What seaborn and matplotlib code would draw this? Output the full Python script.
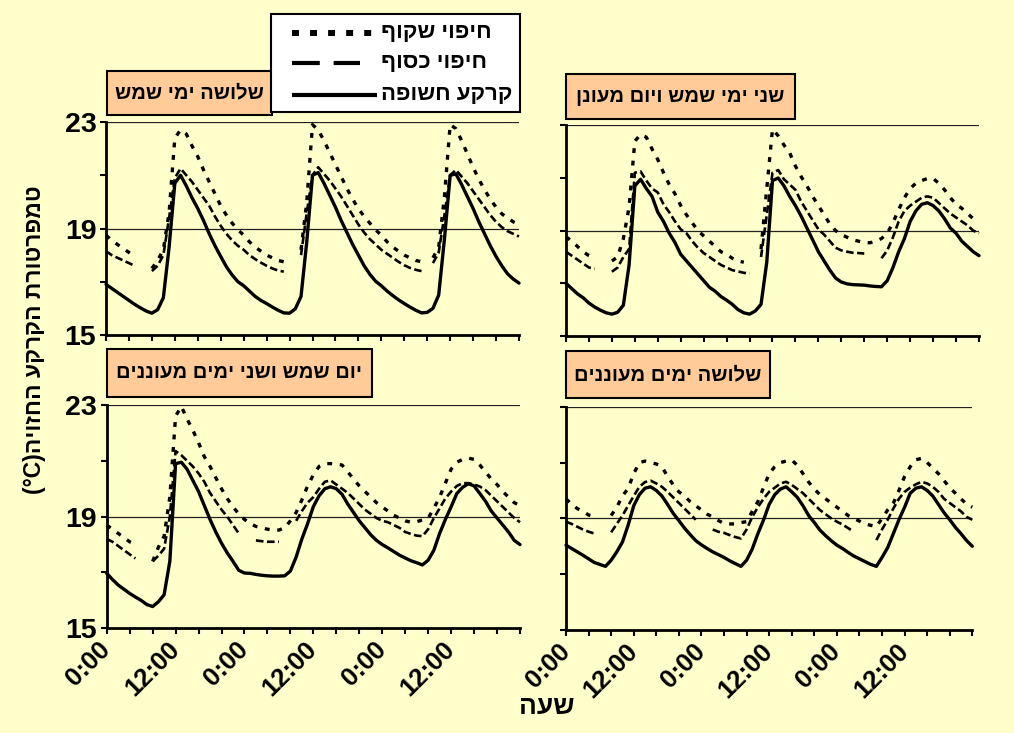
import numpy as np
import pandas as pd
import matplotlib
matplotlib.use("Agg")
import matplotlib.pyplot as plt
from matplotlib.patches import Rectangle
from matplotlib.lines import Line2D
import seaborn as sns

nan = np.nan

# ---- axis data -------------------------------------------------------------
hours = list(range(73))
tick_hours = list(range(0, 73, 4))
tick_labels = ["0:00", "", "", "12:00", "", ""] * 3 + [""]
y_ticks = [15, 17, 19, 21, 23]
y_tick_labels = ["15", "", "19", "", "23"]
grid_levels = [19, 23]

series_names = ["חיפוי שקוף", "חיפוי כסוף", "קרקע חשופה"]
panel_titles = ["שלושה ימי שמש", "שני ימי שמש ויום מעונן",
                "יום שמש ושני ימים מעוננים", "שלושה ימים מעוננים"]
y_title = "טמפרטורת הקרקע החזויה"
y_unit = "(°C)"
x_title = "שעה"

# ---- hourly soil temperature (°C), hours 0..72 ----------------------------
# three sunny days
sunny3_transparent = [
    18.75, 18.55, 18.40, 18.25, 18.10, 17.95, nan, nan, 17.50, 17.80, 18.20, 19.60,
    22.40, 22.70, 22.55, 22.10, 21.70, 21.20, 20.75, 20.30, 19.85, 19.50, 19.20, 18.95,
    18.75, 18.50, 18.30, 18.15, 18.00, 17.90, 17.80, 17.75, nan, nan, 18.20, 20.00,
    22.90, 22.70, 22.30, 21.85, 21.40, 20.95, 20.50, 20.10, 19.75, 19.45, 19.20, 18.95,
    18.75, 18.50, 18.30, 18.15, 18.00, 17.90, 17.80, 17.75, nan, 17.90, 18.30, 20.20,
    22.90, 22.75, 22.30, 21.80, 21.30, 20.85, 20.45, 20.10, 19.80, 19.55, 19.40, 19.25,
    19.15]
sunny3_silver = [
    18.15, 18.00, 17.90, 17.80, 17.70, 17.60, nan, nan, 17.40, 17.60, 18.00, 19.40,
    20.90, 21.25, 21.00, 20.75, 20.45, 20.15, 19.85, 19.45, 19.10, 18.80, 18.55, 18.35,
    18.20, 18.00, 17.85, 17.72, 17.60, 17.50, 17.42, 17.38, nan, nan, 18.00, 19.60,
    21.00, 21.30, 21.05, 20.80, 20.50, 20.20, 19.85, 19.50, 19.15, 18.85, 18.60, 18.40,
    18.20, 18.05, 17.90, 17.75, 17.62, 17.52, 17.45, 17.40, nan, 17.70, 18.10, 19.50,
    21.00, 21.20, 20.95, 20.70, 20.40, 20.10, 19.80, 19.50, 19.25, 19.05, 18.90, 18.80,
    18.70]
sunny3_bare = [
    16.90, 16.75, 16.60, 16.45, 16.30, 16.15, 16.02, 15.90, 15.82, 15.95, 16.40, 18.30,
    20.70, 21.00, 20.60, 20.15, 19.75, 19.30, 18.80, 18.35, 17.95, 17.56, 17.25, 17.00,
    16.85, 16.65, 16.45, 16.30, 16.18, 16.05, 15.93, 15.83, 15.82, 15.98, 16.45, 18.50,
    21.00, 21.10, 20.70, 20.25, 19.80, 19.30, 18.85, 18.40, 18.00, 17.60, 17.28, 17.02,
    16.85, 16.65, 16.48, 16.32, 16.18, 16.05, 15.93, 15.83, 15.85, 16.00, 16.50, 18.60,
    21.00, 21.05, 20.65, 20.20, 19.75, 19.25, 18.80, 18.35, 17.95, 17.60, 17.30, 17.10,
    16.95]

# two sunny days and a cloudy day
sunny2_transparent = [
    18.77, 18.60, 18.40, 18.20, 18.05, 17.95, nan, nan, 17.85, 18.00, 18.70, 19.90,
    22.40, 22.65, 22.55, 22.10, 21.70, 21.20, 20.75, 20.40, 19.95, 19.60, 19.30, 19.00,
    18.80, 18.60, 18.40, 18.20, 18.10, 17.95, 17.85, 17.80, nan, nan, 18.30, 20.60,
    22.85, 22.60, 22.25, 21.95, 21.45, 21.05, 20.70, 20.30, 19.95, 19.60, 19.25, 19.00,
    18.85, 18.75, 18.65, 18.60, 18.55, 18.54, 18.60, 18.70, 18.90, 19.30, 19.80, 20.25,
    20.60, 20.80, 20.90, 20.98, 20.98, 20.80, 20.55, 20.25, 20.00, 19.85, 19.65, 19.45,
    19.35]
sunny2_silver = [
    18.20, 18.05, 17.90, 17.75, 17.60, 17.55, nan, nan, 17.44, 17.60, 18.00, 18.30,
    21.20, 21.25, 20.90, 20.60, 20.45, 20.00, 19.70, 19.35, 19.05, 18.90, 18.60, 18.35,
    18.15, 18.00, 17.85, 17.70, 17.60, 17.50, 17.45, 17.40, 17.37, nan, 18.00, 19.60,
    21.20, 21.30, 20.95, 20.75, 20.55, 20.10, 19.75, 19.40, 19.05, 18.85, 18.60, 18.35,
    18.25, 18.20, 18.16, 18.15, 18.13, nan, nan, 17.95, 18.25, 18.75, 19.35, 19.75,
    19.95, 20.10, 20.25, 20.30, 20.25, 20.05, 19.85, 19.65, 19.50, 19.35, 19.20, 19.00,
    18.90]
sunny2_bare = [
    17.00, 16.80, 16.60, 16.45, 16.25, 16.10, 15.98, 15.88, 15.83, 15.90, 16.17, 17.70,
    20.70, 20.95, 20.60, 20.30, 19.70, 19.35, 18.90, 18.55, 18.10, 17.85, 17.60, 17.35,
    17.10, 16.85, 16.70, 16.50, 16.36, 16.20, 16.00, 15.88, 15.83, 15.95, 16.20, 17.80,
    20.90, 21.00, 20.70, 20.30, 19.95, 19.55, 19.10, 18.65, 18.20, 17.85, 17.50, 17.20,
    17.05, 16.98, 16.95, 16.94, 16.93, 16.90, 16.88, 16.87, 17.10, 17.60, 18.20, 18.70,
    19.35, 19.75, 20.00, 20.06, 19.95, 19.75, 19.45, 19.10, 18.90, 18.60, 18.40, 18.20,
    18.05]

# one sunny day and two cloudy days
sunny1_transparent = [
    18.70, 18.55, 18.40, 18.25, 18.10, 18.00, nan, nan, 17.40, 17.90, 18.30, 19.70,
    22.60, 22.95, 22.50, 22.10, 21.65, 21.15, 20.80, 20.40, 20.00, 19.65, 19.35, 19.10,
    18.90, 18.75, 18.65, 18.60, 18.55, 18.52, 18.52, 18.60, 18.85, 19.15, 19.60, 20.10,
    20.50, 20.80, 20.90, 20.90, 20.88, 20.85, 20.60, 20.35, 20.10, 19.90, 19.70, 19.50,
    19.35, 19.20, 19.05, 18.95, 18.85, 18.80, 18.82, 18.88, 18.95, 19.30, 19.70, 20.20,
    20.70, 20.95, 21.05, 21.10, 21.05, 20.85, 20.60, 20.35, 20.15, 19.90, 19.70, 19.50,
    19.40]
sunny1_silver = [
    18.20, 18.10, 17.95, 17.80, 17.65, 17.50, nan, nan, 17.40, 17.60, 17.85, 19.00,
    21.35, 21.20, 21.00, 20.80, 20.55, 20.25, 19.85, 19.55, 19.25, 19.00, 18.70, 18.40,
    nan, nan, 18.15, 18.12, 18.10, 18.10, 18.10, nan, nan, 18.85, 19.20, 19.50,
    19.70, 20.00, 20.25, 20.30, 20.15, 20.00, 19.85, 19.65, 19.45, 19.25, 19.10, 18.95,
    18.85, 18.80, 18.70, 18.60, 18.45, 18.38, 18.32, 18.30, 18.55, 18.95, 19.30, 19.65,
    19.90, 20.10, 20.20, 20.20, 20.15, 20.08, 19.95, 19.75, 19.55, 19.35, 19.15, 18.95,
    18.80]
sunny1_bare = [
    16.97, 16.75, 16.55, 16.40, 16.25, 16.12, 16.00, 15.85, 15.78, 15.95, 16.20, 17.40,
    20.90, 20.95, 20.70, 20.30, 19.90, 19.40, 18.90, 18.45, 18.05, 17.70, 17.40, 17.08,
    16.98, 16.97, 16.93, 16.90, 16.88, 16.87, 16.87, 16.88, 17.05, 17.55, 18.20, 18.75,
    19.36, 19.75, 20.00, 20.07, 20.00, 19.80, 19.45, 19.15, 18.85, 18.60, 18.35, 18.15,
    18.00, 17.88, 17.75, 17.62, 17.52, 17.42, 17.35, 17.27, 17.44, 17.80, 18.40, 18.90,
    19.35, 19.83, 20.05, 20.18, 20.10, 19.83, 19.55, 19.20, 18.95, 18.70, 18.45, 18.15,
    18.00]

# three cloudy days
cloudy3_transparent = [
    19.70, 19.50, 19.35, 19.25, 19.12, 19.06, nan, nan, 19.10, 19.40, 19.80, 20.07,
    20.60, 21.00, 21.05, 21.00, 20.95, 20.85, 20.50, 20.20, 19.95, 19.80, 19.60, 19.45,
    19.30, 19.15, 19.05, 18.92, 18.82, 18.80, 18.80, 18.85, 18.88, 19.25, 19.60, 20.10,
    20.60, 20.85, 21.00, 21.05, 21.09, 20.90, 20.60, 20.30, 20.05, 19.85, 19.70, 19.55,
    19.40, 19.25, 19.10, 19.00, 18.90, 18.80, 18.75, 18.70, 19.00, 19.30, 19.54, 20.00,
    20.50, 20.85, 21.10, 21.15, 21.00, 20.80, 20.60, 20.35, 20.10, 19.90, 19.70, 19.50,
    19.40]
cloudy3_silver = [
    18.88, 18.80, 18.70, 18.60, 18.52, 18.46, nan, nan, 18.50, 18.80, 19.10, 19.45,
    19.80, 20.13, 20.30, 20.35, 20.25, 20.13, 19.95, 19.75, 19.55, 19.35, 19.15, 18.95,
    nan, nan, 18.60, 18.52, 18.48, 18.40, 18.33, 18.28, 18.60, 19.05, 19.40, 19.70,
    19.95, 20.10, 20.25, 20.31, 20.20, 20.05, 19.90, 19.70, 19.50, 19.30, 19.15, 19.00,
    18.88, 18.78, 18.65, 18.52, nan, nan, nan, 18.22, 18.60, 18.95, 19.35, 19.70,
    19.95, 20.10, 20.22, 20.31, 20.25, 20.13, 19.95, 19.70, 19.55, 19.40, 19.25, 19.05,
    18.95]
cloudy3_bare = [
    18.04, 17.92, 17.80, 17.68, 17.55, 17.42, 17.35, 17.28, 17.50, 17.80, 18.15, 18.75,
    19.45, 19.85, 20.08, 20.13, 20.00, 19.80, 19.50, 19.18, 18.92, 18.65, 18.42, 18.20,
    18.05, 17.92, 17.80, 17.70, 17.60, 17.48, 17.38, 17.28, 17.50, 17.90, 18.45, 18.94,
    19.50, 19.85, 20.05, 20.13, 19.95, 19.75, 19.45, 19.10, 18.85, 18.58, 18.38, 18.20,
    18.04, 17.92, 17.78, 17.65, 17.55, 17.45, 17.35, 17.28, 17.60, 17.95, 18.45, 18.95,
    19.40, 19.90, 20.08, 20.13, 20.00, 19.80, 19.50, 19.20, 18.95, 18.68, 18.45, 18.20,
    18.00]

panel_series = [
    [sunny3_transparent, sunny3_silver, sunny3_bare],
    [sunny2_transparent, sunny2_silver, sunny2_bare],
    [sunny1_transparent, sunny1_silver, sunny1_bare],
    [cloudy3_transparent, cloudy3_silver, cloudy3_bare],
]

# ---- long table; each unbroken run of readings gets its own unit id -----
rows = []
for p, series_list in enumerate(panel_series):
    for s, values in enumerate(series_list):
        run = 0
        for h, v in zip(hours, values):
            if np.isnan(v):
                run += 1
                continue
            rows.append((p, series_names[s], h, v, f"{s}-{run}"))
df = pd.DataFrame(rows, columns=["panel", "series", "hour", "temp", "run"])

# ---- styling -----------------------------------------------------------
sns.set_style("ticks")
plt.rcParams["font.family"] = ["Liberation Sans", "DejaVu Sans"]
plt.rcParams["font.weight"] = "bold"
plt.rcParams["lines.scale_dashes"] = False
for key in ("text.color", "axes.labelcolor", "xtick.color", "ytick.color",
            "xtick.labelcolor", "ytick.labelcolor"):
    plt.rcParams[key] = "black"

BG = "#FFFFCC"
BOX = "#FFCC99"
W, H = 1014, 733

line_styles = {
    series_names[0]: dict(lw=2.4, linestyle=(0, (3.5, 5.5))),
    series_names[1]: dict(lw=1.9, linestyle=(0, (5.5, 2.5))),
    series_names[2]: dict(lw=2.4, linestyle="-"),
}
legend_styles = {
    series_names[0]: dict(lw=4.3, linestyle=(0, (5.0, 8.0))),
    series_names[1]: dict(lw=3.0, linestyle=(0, (20.0, 10.0))),
    series_names[2]: dict(lw=3.0, linestyle="-"),
}
legend_line_ends = {series_names[0]: 374, series_names[1]: 360, series_names[2]: 377}


def rtl(text):
    """Hebrew in visual (left-to-right drawing) order."""
    return text[::-1]


def px_rect(x0, y0, x1, y1):
    return [x0 / W, 1 - y1 / H, (x1 - x0) / W, (y1 - y0) / H]


fig = plt.figure(figsize=(W / 100, H / 100), dpi=100, facecolor=BG)

axes_rects = [
    px_rect(106, 122, 519, 335),
    px_rect(566, 125.3, 979, 336),
    px_rect(106.7, 405, 520, 628.3),
    px_rect(566, 406.7, 972.3, 630),
]
title_boxes = [
    (107, 71, 272, 115),
    (566, 74, 795, 119),
    (107, 349, 372, 397),
    (566, 351, 770, 398),
]

for p, rect in enumerate(axes_rects):
    ax = fig.add_axes(rect)
    ax.set_facecolor(BG)
    for level in grid_levels:
        ax.axhline(level, color="#222222", lw=0.9, zorder=0)
    sub = df[df["panel"] == p]
    for name in series_names:
        sns.lineplot(data=sub[sub["series"] == name], x="hour", y="temp",
                     units="run", estimator=None, color="black",
                     legend=False, ax=ax, clip_on=False, **line_styles[name])
    ax.set_xlim(0, 72)
    ax.set_ylim(15, 23)
    ax.set_xticks(tick_hours)
    ax.set_yticks(y_ticks)
    if p >= 2:
        ax.set_xticklabels(tick_labels, rotation=45, ha="right", va="center",
                           rotation_mode="anchor", fontsize=18.5, fontweight="bold",
                           color="black")
    else:
        ax.set_xticklabels([])
    if p % 2 == 0:
        ax.set_yticklabels(y_tick_labels, fontsize=20.5, fontweight="bold",
                           color="black")
    else:
        ax.set_yticklabels([])
    ax.tick_params(axis="both", direction="out", length=4.5, width=1.5,
                   color="black", pad=2.5)
    ax.tick_params(axis="x", pad=8)
    ax.set_xlabel("")
    ax.set_ylabel("")
    for side in ("top", "right"):
        ax.spines[side].set_visible(False)
    for side in ("left", "bottom"):
        ax.spines[side].set_linewidth(2.0)
        ax.spines[side].set_color("black")

    x0, y0, x1, y1 = title_boxes[p]
    fig.add_artist(Rectangle((x0 / W, 1 - y1 / H), (x1 - x0) / W, (y1 - y0) / H,
                             transform=fig.transFigure, facecolor=BOX,
                             edgecolor="black", lw=1.5, zorder=5))
    fig.text((x0 + x1) / 2 / W, 1 - (y0 + y1) / 2 / H, rtl(panel_titles[p]),
             ha="center", va="center", fontsize=14.5, fontweight="bold",
             color="black", zorder=6)

# ---- legend box ----------------------------------------------------------
lx0, ly0, lx1, ly1 = 271, 14, 520, 112
fig.add_artist(Rectangle((lx0 / W, 1 - ly1 / H), (lx1 - lx0) / W, (ly1 - ly0) / H,
                         transform=fig.transFigure, facecolor="white",
                         edgecolor="black", lw=1.5, zorder=8))
for name, row_y in zip(series_names, [33, 63, 95]):
    x_end = legend_line_ends[name]
    fig.add_artist(Line2D([292 / W, x_end / W], [1 - row_y / H, 1 - row_y / H],
                          transform=fig.transFigure, color="black",
                          solid_capstyle="butt", dash_capstyle="butt",
                          zorder=9, **legend_styles[name]))
    fig.text(381 / W, 1 - row_y / H, rtl(name), ha="left", va="center",
             fontsize=16, fontweight="bold", color="black", zorder=9)

# ---- shared axis titles ----------------------------------------------------
fig.text(35 / W, 1 - 340 / H, y_unit + rtl(y_title), rotation=90,
         ha="center", va="center", fontsize=16.5, fontweight="bold", color="black")
fig.text(547 / W, 1 - 707 / H, rtl(x_title), ha="center", va="center",
         fontsize=19, fontweight="bold", color="black")

fig.savefig("out.png", dpi=100, facecolor=BG)
